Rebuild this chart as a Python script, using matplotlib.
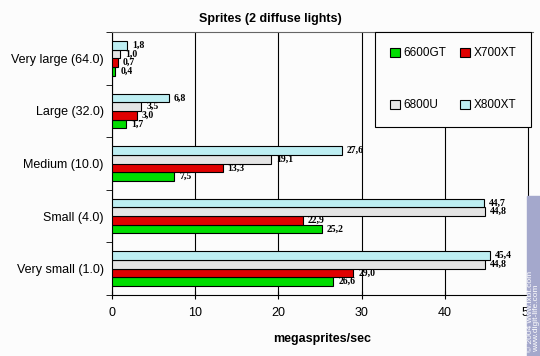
import numpy as np
import matplotlib.pyplot as plt
from matplotlib.patches import Rectangle

plt.rcParams['font.family'] = ['Liberation Sans', 'DejaVu Sans']

categories = ['Very small (1.0)', 'Small (4.0)', 'Medium (10.0)', 'Large (32.0)', 'Very large (64.0)']
series = ['6600GT', 'X700XT', '6800U', 'X800XT']
v6600gt = [26.6, 25.2, 7.5, 1.7, 0.4]
vx700xt = [29.0, 22.9, 13.3, 3.0, 0.7]
v6800u = [44.8, 44.8, 19.1, 3.5, 1.0]
vx800xt = [45.4, 44.7, 27.6, 6.8, 1.8]
colors = ['#00dd00', '#e00000', '#e4e4e4', '#bdeef2']

fig = plt.figure(figsize=(5.4, 3.56), dpi=100, facecolor='#fcfcfc')
ax = fig.add_axes([112/540, 1-295/356, 421/540, 263/356])
ax.set_facecolor('#fcfcfc')

y = np.arange(len(categories))
h = 0.165
offs = [-1.5*h, -0.5*h, 0.5*h, 1.5*h]
handles = []
for vals, c, o, name in zip([v6600gt, vx700xt, v6800u, vx800xt], colors, offs, series):
    b = ax.barh(y + o, vals, height=h, color=c, edgecolor='black', linewidth=0.8, label=name, zorder=3)
    handles.append(b)
    for yy, v in zip(y + o, vals):
        ax.text(v + 0.6, yy, f'{v:.1f}'.replace('.', ','), va='center', ha='left',
                fontsize=7, fontweight='bold', family=['Liberation Serif', 'DejaVu Serif'], zorder=4)

ax.set_xlim(0, 50.6)
ax.set_ylim(-0.5, 4.5)
ax.set_xticks([0, 10, 20, 30, 40, 50])
ax.tick_params(axis='x', direction='inout', length=6, labelsize=9, pad=6)
ax.set_yticks(y)
ax.set_yticklabels(categories)
ax.tick_params(axis='y', length=0, labelsize=9, pad=6)
ax.set_yticks(np.arange(-0.5, 5, 1), minor=True)
ax.tick_params(axis='y', which='minor', direction='out', length=4)
ax.grid(axis='x', color='black', linewidth=0.8, zorder=0)
ax.spines['right'].set_visible(False)
ax.spines['top'].set_color('#666666')
ax.set_xlabel('megasprites/sec', fontsize=9, fontweight='bold', labelpad=10)
fig.text(270/540, 1-19/356, 'Sprites (2 diffuse lights)', fontsize=9, fontweight='bold',
         ha='center', va='center')

# legend in row order: 6600GT X700XT / 6800U X800XT
order = [0, 2, 1, 3]
leg = fig.legend(handles=[handles[i] for i in order], labels=[series[i] for i in order],
                 ncol=2, loc='upper left', bbox_to_anchor=(375/540, 1-32/356), borderaxespad=0,
                 fontsize=8.5, frameon=True,
                 fancybox=False, edgecolor='black', facecolor='#fcfcfc', framealpha=1,
                 handlelength=0.8, handleheight=0.8, handletextpad=0.3,
                 labelspacing=3.4, columnspacing=1.2, borderpad=1.3)
leg.get_frame().set_linewidth(0.8)

# watermark strip
fig.patches.append(Rectangle((527/540, 0), 13/540, 160/356, transform=fig.transFigure,
                             color='#a4a8cc', zorder=0))
fig.text(531/540, 0.01, '© 2004 www.ixbt.com', rotation=90, fontsize=6, color='white', va='bottom', ha='center')
fig.text(537/540, 0.01, 'www.digit-life.com', rotation=90, fontsize=6, color='white', va='bottom', ha='center')

fig.savefig('out.png', dpi=100, facecolor=fig.get_facecolor())
